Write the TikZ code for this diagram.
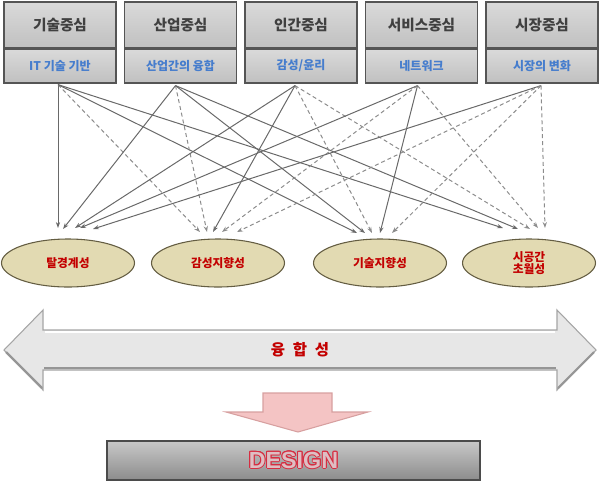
\documentclass[tikz,border=0pt]{standalone}
\usepackage{fontspec}
\setmainfont{Noto Sans CJK KR}
\newfontfamily\latinbold{Liberation Sans}[Scale=1]
\usepackage{contour}
\usetikzlibrary{shapes.geometric,arrows.meta,calc}
\definecolor{boxtop}{RGB}{218,218,218}
\definecolor{boxbot}{RGB}{192,192,192}
\definecolor{boxedge}{RGB}{85,85,85}
\definecolor{titletext}{RGB}{64,64,64}
\definecolor{subblue}{RGB}{70,125,205}
\definecolor{ellc}{RGB}{226,218,178}
\definecolor{ellm}{RGB}{206,196,150}
\definecolor{elld}{RGB}{120,110,78}
\definecolor{elledge}{RGB}{100,93,66}
\definecolor{ellred}{RGB}{195,0,0}
\definecolor{linegray}{RGB}{105,105,105}
\definecolor{dashgray}{RGB}{140,140,140}
\definecolor{arrowfill}{RGB}{231,231,231}
\definecolor{arrowedge}{RGB}{165,165,165}
\definecolor{arrowshadow}{RGB}{150,150,150}
\definecolor{pinkfill}{RGB}{244,196,196}
\definecolor{pinkedge}{RGB}{215,160,160}
\definecolor{designtop}{RGB}{200,200,200}
\definecolor{designbot}{RGB}{140,140,140}
\definecolor{designedge}{RGB}{75,75,75}
\definecolor{designred}{RGB}{215,45,65}
\definecolor{designfill}{RGB}{222,190,195}
\pgfdeclareradialshading{ellshade}{\pgfpoint{0bp}{10bp}}{color(0bp)=(ellc); color(28bp)=(ellc); color(43bp)=(ellm); color(50bp)=(elld)}
\contourlength{0.7pt}
\begin{document}
\begin{tikzpicture}[x=0.75pt,y=-0.75pt,
  titlebox/.style={draw=boxedge, line width=0.9pt, top color=boxtop, bottom color=boxbot,
    minimum width=112*0.75pt, minimum height=46*0.75pt, inner sep=0pt,
    font=\fontsize{11pt}{13pt}\selectfont\bfseries, text=titletext},
  subbox/.style={titlebox, minimum height=34*0.75pt,
    font=\fontsize{9pt}{11pt}\selectfont\bfseries, text=subblue},
  ell/.style={ellipse, draw=elledge, line width=0.8pt, shading=ellshade,
    minimum width=133*0.75pt, minimum height=48*0.75pt, inner sep=0pt,
    font=\fontsize{8.8pt}{9.6pt}\selectfont\bfseries, text=ellred, align=center},
  conn/.style={draw=linegray, line width=0.75pt, -{Stealth[length=4.5pt,width=3.2pt]}},
  dconn/.style={conn, draw=dashgray, dash pattern=on 3pt off 2.2pt},
  dblarrow/.style={fill=arrowfill, draw=arrowedge, line width=0.8pt, line join=miter},
  pinkarrow/.style={fill=pinkfill, draw=pinkedge, line width=0.8pt},
  designbox/.style={draw=designedge, line width=1pt, top color=designtop, bottom color=designbot,
    minimum width=373*0.75pt, minimum height=39*0.75pt, inner sep=0pt},
  fusiontext/.style={font=\fontsize{11.6pt}{13pt}\selectfont\bfseries, text=ellred}
]
\useasboundingbox (0,0) rectangle (600,483);

% top boxes
\foreach \i/\cx/\t/\s in {1/60/기술중심/IT 기술 기반, 2/180.5/산업중심/산업간의 융합, 3/301/인간중심/{감성/윤리}, 4/421.5/서비스중심/네트워크, 5/542/시장중심/시장의 변화}{
  \node[titlebox] (t\i) at (\cx,25) {\t};
  \node[subbox] (s\i) at (\cx,66) {\s};
}
\coordinate (o1) at ($(s1.south)+(-2,1)$);
\coordinate (o2) at ($(s2.south)+(-5,2)$);
\coordinate (o3) at ($(s3.south)+(-6,2)$);
\coordinate (o4) at ($(s4.south)+(-4,2)$);
\coordinate (o5) at ($(s5.south)+(-1,2)$);

% ellipses
\node[ell] (e1) at (68,263) {탈경계성};
\node[ell] (e2) at (218,263) {감성지향성};
\node[ell] (e3) at (380,263) {기술지향성};
\node[ell] (e4) at (529,263) {시공간\\초월성};

% connectors
\draw[conn]  (o1) -- ($(e1.center)+(-10,-35)$);
\draw[dconn] (o1) -- ($(e2.center)+(-18,-31)$);
\draw[conn]  (o1) -- ($(e3.center)+(-23,-30)$);
\draw[conn]  (o1) -- ($(e4.center)+(-26,-35)$);

\draw[conn]  (o2) -- ($(e1.center)+(-5,-34)$);
\draw[dconn] (o2) -- ($(e2.center)+(-11,-31)$);
\draw[conn]  (o2) -- ($(e3.center)+(-15,-30)$);
\draw[conn]  (o2) -- ($(e4.center)+(-11,-34)$);

\draw[conn]  (o3) -- ($(e1.center)+(7,-35)$);
\draw[conn]  (o3) -- ($(e2.center)+(-5,-31)$);
\draw[dconn] (o3) -- ($(e3.center)+(-8,-30)$);
\draw[dconn] (o3) -- ($(e4.center)+(1,-34)$);

\draw[conn]  (o4) -- ($(e1.center)+(12,-35)$);
\draw[dconn] (o4) -- ($(e2.center)+(4,-31)$);
\draw[conn]  (o4) -- ($(e3.center)+(0,-30)$);
\draw[dconn] (o4) -- ($(e4.center)+(9,-35)$);

\draw[conn]  (o5) -- ($(e1.center)+(25,-34)$);
\draw[dconn] (o5) -- ($(e2.center)+(19,-31)$);
\draw[dconn] (o5) -- ($(e3.center)+(12,-30)$);
\draw[dconn] (o5) -- ($(e4.center)+(16,-35)$);

% double arrow
\draw[dblarrow] (4,350) -- (43,310) -- (43,330) -- (557,330) -- (557,310) -- (596,350)
  -- (557,390) -- (557,370) -- (43,370) -- (43,390) -- cycle;
\draw[arrowshadow, line width=1.6pt] (6,352) -- (42,388);
\draw[arrowshadow, line width=1.6pt] (44,368) -- (556,368);
\draw[arrowshadow, line width=1.6pt] (558,388) -- (594,352);
\draw[white, line width=1.2pt] (45,332) -- (555,332);
\node[fusiontext] (fusion) at (300,350) {{\spaceskip=0.5em 융 합 성}};

% pink arrow
\draw[pinkarrow] (263,393) -- (332,393) -- (332,412) -- (368,412) -- (298,432) -- (226,412) -- (263,412) -- cycle;

% design box
\node[designbox] (design) at (293.5,460.5)
  {\latinbold\fontsize{17.5pt}{19pt}\selectfont\bfseries\contour{designred}{\textcolor{designfill}{DESIGN}}};
\end{tikzpicture}
\end{document}
